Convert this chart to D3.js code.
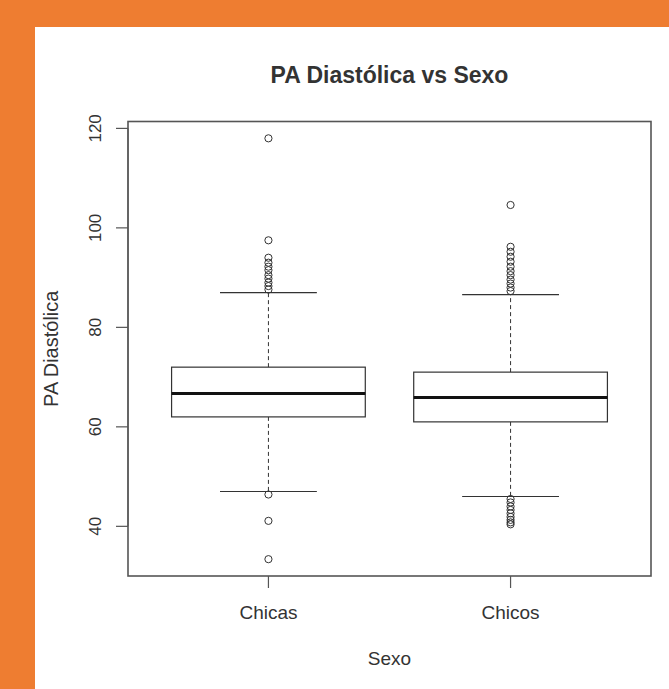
<!DOCTYPE html>
<html lang="es">
<head>
<meta charset="utf-8">
<style>
  body { margin: 0; background: #ee7d31; }
  svg { display: block; }
  text { font-family: "Liberation Sans", Arial, sans-serif; fill: #333; }
</style>
</head>
<body>
<svg width="669" height="689"></svg>
<script src="https://cdn.jsdelivr.net/npm/d3@7"></script>
<script>
// values
var categories = ["Chicas", "Chicos"];
var q1 = [62, 61];
var medians = [66.7, 65.9];
var q3 = [72, 71];
var whiskerLow = [47, 46];
var whiskerHigh = [87, 86.6];
var outliersChicas = [118, 97.5, 94, 93, 92.2, 91.5, 90.5, 89.8, 89, 88.3, 87.6, 46.4, 41.1, 33.4];
var outliersChicos = [104.6, 96.2, 95.2, 94.2, 93.2, 92.2, 91.3, 90.5, 89.6, 88.8, 88, 87.3,
                      45.5, 44.8, 44, 43.3, 42.6, 41.9, 41.3, 40.8, 40.4];
var yTicks = [40, 60, 80, 100, 120];

var outliers = [outliersChicas, outliersChicos];

var svg = d3.select("svg");

// white panel on the orange frame
svg.append("rect")
    .attr("x", 35).attr("y", 27)
    .attr("width", 669 - 35).attr("height", 689 - 27)
    .attr("fill", "#ffffff");

var pLeft = 128, pRight = 651, pTop = 121.5, pBottom = 576;

// R style range: data extent plus 4%
var all = d3.merge(outliers);
var lo = d3.min(all), hi = d3.max(all), ext = (hi - lo) * 0.04;

var y = d3.scaleLinear().domain([lo - ext, hi + ext]).range([pBottom, pTop]);
var x = d3.scaleLinear().domain([0.42, 2.58]).range([pLeft, pRight]);

var lineCol = "#333";

var groups = svg.selectAll(".grp")
    .data(categories)
    .enter().append("g")
    .attr("class", "grp");

// dashed whiskers
groups.append("line")
    .attr("x1", function (d, i) { return x(i + 1); })
    .attr("x2", function (d, i) { return x(i + 1); })
    .attr("y1", function (d, i) { return y(q3[i]); })
    .attr("y2", function (d, i) { return y(whiskerHigh[i]); })
    .attr("stroke", lineCol).attr("stroke-dasharray", "4,3");
groups.append("line")
    .attr("x1", function (d, i) { return x(i + 1); })
    .attr("x2", function (d, i) { return x(i + 1); })
    .attr("y1", function (d, i) { return y(q1[i]); })
    .attr("y2", function (d, i) { return y(whiskerLow[i]); })
    .attr("stroke", lineCol).attr("stroke-dasharray", "4,3");

// staples
[whiskerHigh, whiskerLow].forEach(function (arr) {
    groups.append("line")
        .attr("x1", function (d, i) { return x(i + 1 - 0.2); })
        .attr("x2", function (d, i) { return x(i + 1 + 0.2); })
        .attr("y1", function (d, i) { return y(arr[i]); })
        .attr("y2", function (d, i) { return y(arr[i]); })
        .attr("stroke", lineCol).attr("stroke-width", 1.2);
});

// boxes
groups.append("rect")
    .attr("x", function (d, i) { return x(i + 1 - 0.4); })
    .attr("width", function (d, i) { return x(i + 1 + 0.4) - x(i + 1 - 0.4); })
    .attr("y", function (d, i) { return y(q3[i]); })
    .attr("height", function (d, i) { return y(q1[i]) - y(q3[i]); })
    .attr("fill", "#fff").attr("stroke", lineCol).attr("stroke-width", 1.2);

// medians
groups.append("line")
    .attr("x1", function (d, i) { return x(i + 1 - 0.4); })
    .attr("x2", function (d, i) { return x(i + 1 + 0.4); })
    .attr("y1", function (d, i) { return y(medians[i]); })
    .attr("y2", function (d, i) { return y(medians[i]); })
    .attr("stroke", "#111").attr("stroke-width", 3.2);

// outlier points
groups.each(function (d, i) {
    d3.select(this).selectAll("circle")
        .data(outliers[i])
        .enter().append("circle")
        .attr("cx", x(i + 1))
        .attr("cy", function (v) { return y(v); })
        .attr("r", 3.6)
        .attr("fill", "none")
        .attr("stroke", "#333")
        .attr("stroke-width", 1);
});

// frame
svg.append("rect")
    .attr("x", pLeft).attr("y", pTop)
    .attr("width", pRight - pLeft).attr("height", pBottom - pTop)
    .attr("fill", "none").attr("stroke", "#555").attr("stroke-width", 1.6);

// y axis
var yAxis = svg.append("g");
yAxis.append("line")
    .attr("x1", pLeft).attr("x2", pLeft)
    .attr("y1", y(yTicks[0])).attr("y2", y(yTicks[yTicks.length - 1]))
    .attr("stroke", "#555");
var yt = yAxis.selectAll(".yt").data(yTicks).enter().append("g")
    .attr("transform", function (d) { return "translate(0," + y(d) + ")"; });
yt.append("line").attr("x1", pLeft - 12).attr("x2", pLeft).attr("stroke", "#555").attr("stroke-width", 1.2);
yt.append("text")
    .attr("transform", "translate(101,0) rotate(-90)")
    .attr("text-anchor", "middle")
    .style("font-size", "17px")
    .text(function (d) { return d; });

// x axis
var xt = svg.selectAll(".xt").data(categories).enter().append("g")
    .attr("transform", function (d, i) { return "translate(" + x(i + 1) + ",0)"; });
xt.append("line").attr("y1", pBottom).attr("y2", pBottom + 12).attr("stroke", "#555").attr("stroke-width", 1.2);
xt.append("text")
    .attr("y", 619)
    .attr("text-anchor", "middle")
    .style("font-size", "19px")
    .text(function (d) { return d; });

// titles
svg.append("text")
    .attr("x", (pLeft + pRight) / 2).attr("y", 83)
    .attr("text-anchor", "middle")
    .style("font-size", "23px").style("font-weight", "bold")
    .text("PA Diastólica vs Sexo");

svg.append("text")
    .attr("x", (pLeft + pRight) / 2).attr("y", 665)
    .attr("text-anchor", "middle")
    .style("font-size", "19px")
    .text("Sexo");

svg.append("text")
    .attr("transform", "translate(58," + ((pTop + pBottom) / 2) + ") rotate(-90)")
    .attr("text-anchor", "middle")
    .style("font-size", "20px")
    .text("PA Diastólica");
</script>
</body>
</html>
